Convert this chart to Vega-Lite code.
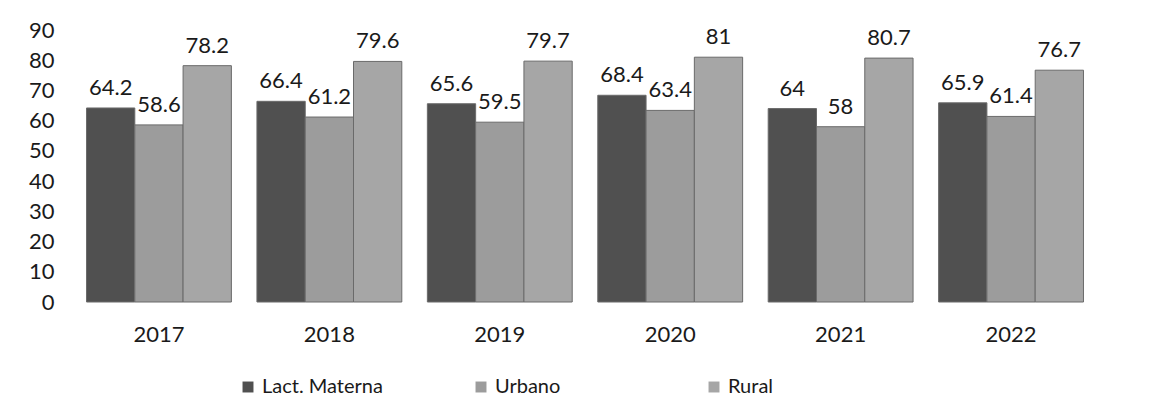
{
  "$schema": "https://vega.github.io/schema/vega-lite/v6.json",
  "width": 1014,
  "height": 272,
  "autosize": {"type": "none"},
  "padding": {"left": 78, "top": 30, "right": 67, "bottom": 106},
  "background": "white",
  "config": {
    "font": "Lato",
    "view": {"stroke": null},
    "axis": {"grid": false, "domain": false, "ticks": false, "labelColor": "#1a1a1a", "titleColor": "#1a1a1a"}
  },
  "data": {
    "values": [
      {"year": "2017", "serie": "Lact. Materna", "value": 64.2},
      {"year": "2017", "serie": "Urbano", "value": 58.6},
      {"year": "2017", "serie": "Rural", "value": 78.2},
      {"year": "2018", "serie": "Lact. Materna", "value": 66.4},
      {"year": "2018", "serie": "Urbano", "value": 61.2},
      {"year": "2018", "serie": "Rural", "value": 79.6},
      {"year": "2019", "serie": "Lact. Materna", "value": 65.6},
      {"year": "2019", "serie": "Urbano", "value": 59.5},
      {"year": "2019", "serie": "Rural", "value": 79.7},
      {"year": "2020", "serie": "Lact. Materna", "value": 68.4},
      {"year": "2020", "serie": "Urbano", "value": 63.4},
      {"year": "2020", "serie": "Rural", "value": 81},
      {"year": "2021", "serie": "Lact. Materna", "value": 64},
      {"year": "2021", "serie": "Urbano", "value": 58},
      {"year": "2021", "serie": "Rural", "value": 80.7},
      {"year": "2022", "serie": "Lact. Materna", "value": 65.9},
      {"year": "2022", "serie": "Urbano", "value": 61.4},
      {"year": "2022", "serie": "Rural", "value": 76.7}
    ]
  },
  "encoding": {
    "x": {
      "field": "year", "type": "nominal", "title": null,
      "scale": {"paddingInner": 0.15, "paddingOuter": 0.05},
      "axis": {"labelAngle": 0, "labelFontSize": 22, "labelPadding": 22}
    },
    "xOffset": {"field": "serie", "type": "nominal", "sort": ["Lact. Materna", "Urbano", "Rural"]},
    "y": {
      "field": "value", "type": "quantitative", "title": null,
      "scale": {"domain": [0, 90]},
      "axis": {"values": [0, 10, 20, 30, 40, 50, 60, 70, 80, 90], "labelFontSize": 22, "labelPadding": 24}
    }
  },
  "layer": [
    {
      "mark": {"type": "bar", "stroke": "#6a6a6a", "strokeWidth": 1},
      "encoding": {
        "color": {
          "field": "serie", "type": "nominal",
          "sort": ["Lact. Materna", "Urbano", "Rural"],
          "scale": {"domain": ["Lact. Materna", "Urbano", "Rural"], "range": ["#505050", "#9c9c9c", "#a6a6a6"]},
          "legend": {
            "title": null, "orient": "none", "direction": "horizontal",
            "legendX": 160, "legendY": 347, "gridAlign": "all",
            "symbolType": "square", "symbolSize": 120, "symbolStrokeWidth": 0,
            "labelFontSize": 20, "labelColor": "#1a1a1a", "columnPadding": 88, "labelOffset": 4
          }
        }
      }
    },
    {
      "mark": {"type": "text", "baseline": "bottom", "dy": -8, "fontSize": 22, "color": "#1a1a1a"},
      "encoding": {"text": {"field": "value", "type": "quantitative"}}
    }
  ]
}
